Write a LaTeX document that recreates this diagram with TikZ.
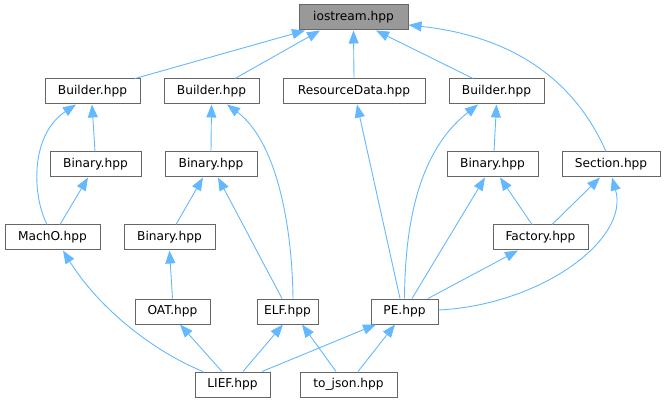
\documentclass[tikz,border=0pt]{standalone}
\usepackage{fontspec}
\setmainfont{DejaVu Sans}
\usetikzlibrary{arrows.meta}
\definecolor{edgeblue}{HTML}{63B8FF}
\definecolor{boxgray}{HTML}{666666}
\definecolor{rootfill}{HTML}{999999}
\tikzset{
  file/.style={draw=boxgray, line width=1pt, fill=white, minimum height=25pt, inner sep=0pt, font=\fontsize{12.2}{14}\selectfont},
  root/.style={file, fill=rootfill},
  dep/.style={draw=edgeblue, line width=0.9pt, -{Triangle[length=13pt,width=10pt]}}
}
\begin{document}
\begin{tikzpicture}[x=1pt,y=-1pt]
\useasboundingbox (0,0) rectangle (666,403);
% row 1
\node[root, minimum width=109pt] (io) at (353.5,17.5) {iostream.hpp};
% row 2
\node[file, minimum width=95pt] (bu1) at (92.5,91.5) {Builder.hpp};
\node[file, minimum width=95pt] (bu2) at (211.5,91.5) {Builder.hpp};
\node[file, minimum width=142pt] (rd) at (354,91.5) {ResourceData.hpp};
\node[file, minimum width=95pt] (bu3) at (496.5,91.5) {Builder.hpp};
% row 3
\node[file, minimum width=91pt] (bi1) at (95.5,164.5) {Binary.hpp};
\node[file, minimum width=92pt] (bi2) at (211,164.5) {Binary.hpp};
\node[file, minimum width=91pt] (bi3) at (492.5,164.5) {Binary.hpp};
\node[file, minimum width=98pt] (sec) at (611,164.5) {Section.hpp};
% row 4
\node[file, minimum width=95pt] (macho) at (52.5,237.5) {MachO.hpp};
\node[file, minimum width=91pt] (bi4) at (169.5,237.5) {Binary.hpp};
\node[file, minimum width=95pt] (fac) at (540.5,237.5) {Factory.hpp};
% row 5
\node[file, minimum width=75pt] (oat) at (172.5,311.5) {OAT.hpp};
\node[file, minimum width=61pt] (elf) at (287.5,311.5) {ELF.hpp};
\node[file, minimum width=67pt] (pe) at (404.5,311.5) {PE.hpp};
% row 6
\node[file, minimum width=75pt] (lief) at (232.5,384.5) {LIEF.hpp};
\node[file, minimum width=97pt] (json) at (348.5,384.5) {to\_json.hpp};

% edges into iostream
\draw[dep] ([xshift=42.5pt]bu1.north) -- ([xshift=-48.5pt]io.south);
\draw[dep] ([xshift=23.5pt]bu2.north) -- ([xshift=-33.5pt]io.south);
\draw[dep] (rd.north) -- (io.south);
\draw[dep] ([xshift=-23.5pt]bu3.north) -- ([xshift=22.5pt]io.south);
\draw[dep] ([xshift=-5pt]sec.north) .. controls (570,70) and (500,35) .. ([yshift=-7.5pt]io.east);
% Builder 1 branch
\draw[dep] ([xshift=-0.5pt]bi1.north) -- ([xshift=-0.5pt]bu1.south);
\draw[dep] ([xshift=-5.5pt]macho.north) .. controls (32,195) and (30,135) .. ([xshift=-16.5pt]bu1.south);
\draw[dep] ([xshift=7.5pt]macho.north) -- ([xshift=-7.5pt]bi1.south);
% Builder 2 branch
\draw[dep] (bi2.north) -- (bu2.south);
\draw[dep] ([xshift=5.5pt]elf.north) .. controls (292,220) and (275,140) .. ([xshift=15.5pt]bu2.south);
\draw[dep] ([xshift=6.5pt]bi4.north) -- ([xshift=-8pt]bi2.south);
\draw[dep] ([xshift=-5.5pt]elf.north) -- ([xshift=7pt]bi2.south);
\draw[dep] (oat.north) -- (bi4.south);
% PE branch
\draw[dep] ([xshift=-4.5pt]pe.north) -- ([xshift=3pt]rd.south);
\draw[dep] (pe.north) .. controls (405,220) and (420,150) .. ([xshift=-18.5pt]bu3.south);
\draw[dep] ([xshift=1.5pt]bi3.north) -- (bu3.south);
\draw[dep] ([xshift=7.5pt]pe.north) -- ([xshift=-7.5pt]bi3.south);
\draw[dep] ([xshift=-8.5pt]fac.north) -- ([xshift=7.5pt]bi3.south);
\draw[dep] ([xshift=11.5pt]fac.north) -- ([xshift=-11pt]sec.south);
\draw[dep] ([yshift=1.5pt]pe.east) .. controls (540,305) and (630,240) .. ([xshift=1pt]sec.south);
\draw[dep] ([xshift=23.5pt]pe.north) -- ([xshift=-22.5pt]fac.south);
% bottom
\draw[dep] ([xshift=-29.5pt]lief.north) .. controls (155,352) and (100,310) .. ([xshift=10.5pt]macho.south);
\draw[dep] ([xshift=-10.5pt]lief.north) -- ([xshift=7.5pt]oat.south);
\draw[dep] ([xshift=10.5pt]lief.north) -- ([xshift=-4.5pt]elf.south);
\draw[dep] ([xshift=29.5pt]lief.north) -- ([xshift=-28.5pt]pe.south);
\draw[dep] ([xshift=-12.5pt]json.north) -- ([xshift=14.5pt]elf.south);
\draw[dep] ([xshift=9.5pt]json.north) -- ([xshift=-9.5pt]pe.south);
\end{tikzpicture}
\end{document}
